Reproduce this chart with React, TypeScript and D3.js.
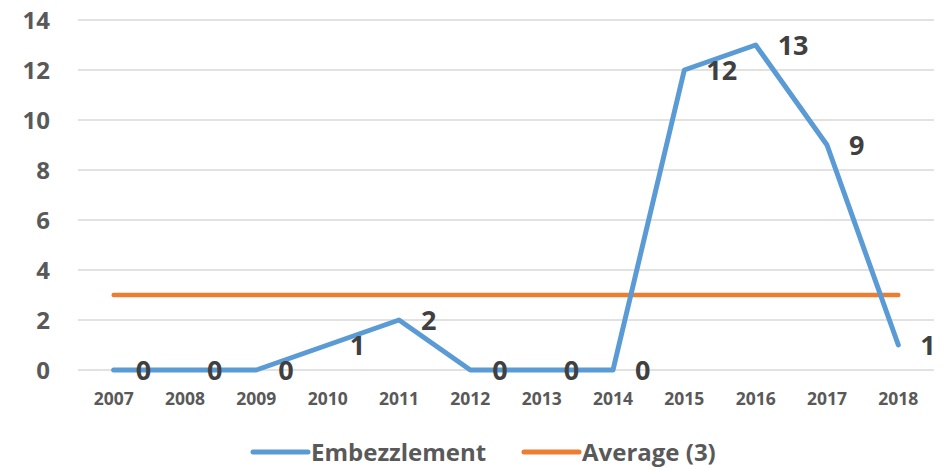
import React, { useEffect, useRef } from 'react';
import * as d3 from 'd3';

const years = ['2007', '2008', '2009', '2010', '2011', '2012', '2013', '2014', '2015', '2016', '2017', '2018'];
const embezzlement = [0, 0, 0, 1, 2, 0, 0, 0, 12, 13, 9, 1];
const averageValue = 3;
const yTicks = [0, 2, 4, 6, 8, 10, 12, 14];

const BLUE = '#5b9bd5';
const ORANGE = '#ed7d31';
const FONT = '"Open Sans", sans-serif';

export default function App() {
  const svgRef = useRef<SVGSVGElement>(null);

  useEffect(() => {
    if (!svgRef.current) return;
    const svg = d3.select(svgRef.current);
    svg.selectAll('*').remove();

    const left = 78;
    const right = 934;
    const top = 20;
    const bottom = 370;

    const x = d3.scaleBand<string>().domain(years).range([left, right]);
    const xc = (d: string) => (x(d) || 0) + x.bandwidth() / 2;
    const y = d3.scaleLinear().domain([0, 14]).range([bottom, top]);

    // gridlines
    svg.append('g')
      .selectAll('line')
      .data(yTicks)
      .join('line')
      .attr('x1', left)
      .attr('x2', right)
      .attr('y1', d => y(d))
      .attr('y2', d => y(d))
      .attr('stroke', '#d9d9d9')
      .attr('stroke-width', 1.5);

    // y labels
    svg.append('g')
      .selectAll('text')
      .data(yTicks)
      .join('text')
      .attr('x', 50)
      .attr('y', d => y(d))
      .attr('dy', '0.36em')
      .attr('text-anchor', 'end')
      .style('font-family', FONT)
      .style('font-weight', 'bold')
      .style('font-size', '24px')
      .style('fill', '#595959')
      .text(d => d);

    // x labels
    svg.append('g')
      .selectAll('text')
      .data(years)
      .join('text')
      .attr('x', d => xc(d))
      .attr('y', 405)
      .attr('text-anchor', 'middle')
      .style('font-family', FONT)
      .style('font-weight', 'bold')
      .style('font-size', '17.5px')
      .style('fill', '#595959')
      .text(d => d);

    // average line
    const avgLine = d3.line<string>().x(d => xc(d)).y(() => y(averageValue));
    svg.append('path')
      .datum(years)
      .attr('d', avgLine)
      .attr('fill', 'none')
      .attr('stroke', ORANGE)
      .attr('stroke-width', 4.5)
      .attr('stroke-linecap', 'round');

    // embezzlement line
    const line = d3.line<number>().x((d, i) => xc(years[i])).y(d => y(d));
    svg.append('path')
      .datum(embezzlement)
      .attr('d', line)
      .attr('fill', 'none')
      .attr('stroke', BLUE)
      .attr('stroke-width', 5)
      .attr('stroke-linecap', 'round')
      .attr('stroke-linejoin', 'round');

    // data labels
    svg.append('g')
      .selectAll('text')
      .data(embezzlement)
      .join('text')
      .attr('x', (d, i) => xc(years[i]) + 22)
      .attr('y', d => y(d))
      .attr('dy', '0.36em')
      .style('font-family', FONT)
      .style('font-weight', 'bold')
      .style('font-size', '27px')
      .style('fill', '#404040')
      .text(d => d);

    // legend
    const legend = [
      { label: 'Embezzlement', color: BLUE, x: 253 },
      { label: 'Average (3)', color: ORANGE, x: 524 },
    ];
    const lg = svg.append('g')
      .selectAll('g')
      .data(legend)
      .join('g')
      .attr('transform', d => `translate(${d.x},452)`);
    lg.append('line')
      .attr('x1', 0)
      .attr('x2', 55)
      .attr('stroke', d => d.color)
      .attr('stroke-width', 5)
      .attr('stroke-linecap', 'round');
    lg.append('text')
      .attr('x', 58)
      .attr('y', 9)
      .style('font-family', FONT)
      .style('font-weight', 'bold')
      .style('font-size', '24px')
      .style('fill', '#595959')
      .text(d => d.label);
  }, []);

  return (
    <div style={{ position: 'fixed', left: 0, top: 0, width: 951, height: 469, overflow: 'hidden', background: '#fff' }}>
      <svg ref={svgRef} width={951} height={469} style={{ display: 'block' }} />
    </div>
  );
}
